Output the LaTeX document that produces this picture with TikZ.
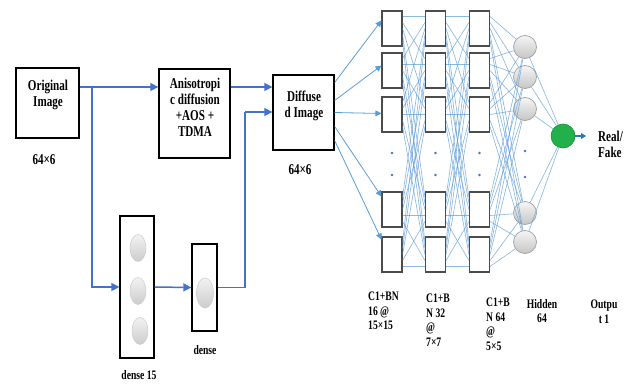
\documentclass[tikz,border=0pt]{standalone}
\usepackage{fontspec}
\setmainfont{Liberation Serif}[FakeStretch=0.74]
\usetikzlibrary{arrows.meta,calc,shapes.geometric}
\definecolor{ablue}{HTML}{4472C4}
\definecolor{lblue}{HTML}{5B9BD5}
\definecolor{dblue}{HTML}{2E75B6}
\definecolor{ogreen}{HTML}{22B04A}
\begin{document}
\begin{tikzpicture}[x=1pt,y=-1pt,
  blk/.style={draw=black, line width=1.3pt, fill=white, inner sep=0pt},
  txt/.style={font=\bfseries\fontsize{15}{16}\selectfont, align=center, inner sep=0pt},
  sml/.style={font=\bfseries\fontsize{13}{14.5}\selectfont, inner sep=0pt},
  conv/.style={draw=black!70, line width=1.1pt, fill=white, minimum width=20pt, minimum height=35pt, inner sep=0pt},
  neuron/.style={circle, draw=gray!75, line width=0.7pt, top color=gray!8, bottom color=gray!45, minimum size=23pt, inner sep=0pt},
  dneuron/.style={ellipse, draw=gray!40, line width=0.5pt, top color=gray!10, bottom color=gray!40, inner sep=0pt},
  flow/.style={ablue, line width=1.5pt, -{Triangle[length=8pt,width=8pt]}},
  flowline/.style={ablue, line width=1.5pt},
  fc/.style={lblue, line width=0.65pt, opacity=0.7},
  fcarrow/.style={lblue, line width=0.8pt, -{Triangle[length=6pt,width=6pt]}},
  dot/.style={circle, fill=ablue, inner sep=0pt, minimum size=2.8pt}
]
\useasboundingbox (0,0) rectangle (629,383);

% ---- left part ----
\node[blk, minimum width=63pt, minimum height=70pt] (orig) at (47.5,103) {};
\node[txt] (origt) at (48,95) {Original\\Image};
\node[txt] (d1) at (44,160) {64×6};

\node[blk, minimum width=71pt, minimum height=89pt] (aniso) at (194.5,113.5) {};
\node[txt] (anisot) at (195,107) {Anisotropi\\c diffusion\\+AOS +\\TDMA};

\node[blk, minimum width=61pt, minimum height=75pt] (diff) at (303.5,112.5) {};
\node[txt] (difft) at (304,106) {Diffuse\\d Image};
\node[txt] (d2) at (300,170) {64×6};

\node[blk, minimum width=34pt, minimum height=142pt] (dense15) at (137,287) {};
\node[dneuron, minimum width=16pt, minimum height=27pt] (n1) at (138,248) {};
\node[dneuron, minimum width=16pt, minimum height=27pt] (n2) at (138,291) {};
\node[dneuron, minimum width=16pt, minimum height=27pt] (n3) at (140,331) {};
\node[sml] (l15) at (139,375) {dense 15};

\node[blk, minimum width=25pt, minimum height=87pt] (dense) at (204.5,287.5) {};
\node[dneuron, minimum width=17pt, minimum height=30pt] (n4) at (205,293) {};
\node[sml] (ld) at (205,350) {dense};

\coordinate (br) at (92,87);
\coordinate (up) at (245,112);
\draw[flow] (orig.east |- br) -- (aniso.west |- br);
\draw[flow] (br) |- (dense15.west);
\draw[flow] (aniso.east |- br) -- (diff.west |- br);
\draw[flow] (dense15.east) -- (dense.west);
\draw[flowline] (dense.east) -| (up);
\draw[flow] (up) -- (diff.west |- up);

% ---- network ----
\foreach \c/\x in {1/392,2/435.5,3/479.5}{
  \foreach \r/\y in {1/28.5,2/70.5,3/114.5,4/209.5,5/254.5}{
    \node[conv] (c\c-\r) at (\x,\y) {};
  }
  \node[dot] (da\c) at (\x,153) {};
  \node[dot] (db\c) at (\x,175) {};
}
\foreach \r/\y in {1/47,2/77,3/109,4/213,5/242}{
  \node[neuron] (h\r) at (525,\y) {};
}
\node[dot] (da4) at (525,151) {};
\node[dot] (db4) at (525,177) {};
\node[circle, fill=ogreen, draw=ogreen!80!black, line width=0.6pt, minimum size=24pt, inner sep=0pt] (out) at (563,136) {};

\foreach \c/\d in {1/2,2/3}{
  \foreach \i in {1,...,5}{
    \foreach \j in {1,...,5}{
      \draw[fc] ($(c\c-\i.east)+(0,{(\j-3)*6})$) -- ($(c\d-\j.west)+(0,{(\i-3)*6})$);
    }
  }
}
\foreach \i in {1,...,5}{
  \foreach \j in {1,...,5}{
    \draw[fc] ($(c3-\i.east)+(0,{(\j-3)*6})$) -- (h\j);
  }
  \draw[fc] (h\i) -- (out);
}
\foreach \r/\s/\e in {1/-30/-8,2/-12/-5,3/0/-1,4/14/-13,5/28/-15}{
  \draw[fcarrow] ($(diff.east)+(0,\s)$) -- ($(c1-\r.west)+(0,\e)$);
}
\coordinate (oend) at (586,136);
\draw[dblue, line width=2pt, -{Triangle[length=5pt,width=6pt]}] (out.east) -- (oend);
\node[txt, align=left, anchor=west] (rf) at (598,144) {Real/\\Fake};

% ---- bottom labels ----
\node[sml, align=left, anchor=north west] (b1) at (368,292) {C1+BN\\16 @\\15×15};
\node[sml, align=left, anchor=north west] (b2) at (426,294) {C1+B\\N 32\\@\\7×7};
\node[sml, align=left, anchor=north west] (b3) at (486,298) {C1+B\\N 64\\@\\5×5};
\node[sml, align=center, anchor=north] (b4) at (542,299) {Hidden\\64};
\node[sml, align=center, anchor=north] (b5) at (604,300) {Outpu\\t 1};
\end{tikzpicture}
\end{document}
